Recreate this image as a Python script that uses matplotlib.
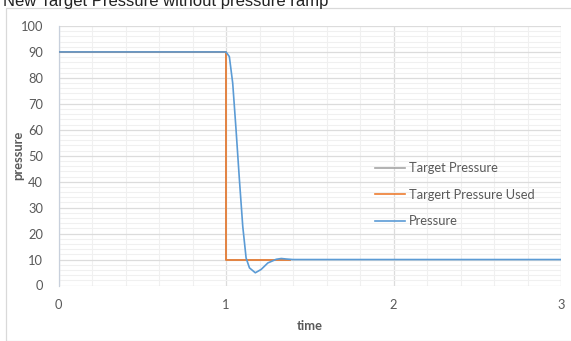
import matplotlib
matplotlib.use("Agg")
import matplotlib.pyplot as plt
from matplotlib.patches import Rectangle
import numpy as np

# Data
pressure_t = [0, 1.0, 1.02, 1.04, 1.06, 1.08, 1.10, 1.12, 1.14, 1.175, 1.21, 1.25, 1.30, 1.33, 1.36, 1.40, 3.0]
pressure_v = [90, 90, 88.2, 78, 60, 40.8, 22.8, 10.6, 6.8, 4.9, 6.2, 8.7, 10.1, 10.4, 10.2, 10, 10]
used_t = [0, 1.0, 1.0, 1.38]
used_v = [90, 90, 10, 10]
target_t = [0, 1.0, 1.0, 1.38]
target_v = [90, 90, 10, 10]
x_ticks = [0, 1, 2, 3]
y_ticks = [0, 10, 20, 30, 40, 50, 60, 70, 80, 90, 100]
title = "New Target Pressure without pressure ramp"

plt.rcParams['font.family'] = ['Lato', 'DejaVu Sans']
W, H = 571, 341
fig = plt.figure(figsize=(W / 100, H / 100), dpi=100)
fig.patch.set_facecolor('white')

# chart border
fig.patches.append(Rectangle((6 / W, 0.5 / H), 1.0, 1 - 8.5 / H, transform=fig.transFigure,
                             fill=False, edgecolor='#d9d9d9', linewidth=0.9))

fig.text(3 / W, 1 - 6 / H, title, fontsize=12.0, color='#222222', va='baseline', ha='left',
         family=['Liberation Sans', 'DejaVu Sans'])

left, right = 58.5 / W, 561 / W
bottom, top = 1 - 285.5 / H, 1 - 26 / H
ax = fig.add_axes([left, bottom, right - left, top - bottom])

ax.set_xlim(0, 3)
ax.set_ylim(0, 100)
ax.set_xticks(x_ticks)
ax.set_yticks(y_ticks)
ax.set_xticks(np.arange(0, 3.001, 0.2), minor=True)
ax.set_yticks(np.arange(0, 100.001, 2), minor=True)
ax.grid(which='minor', color='#f0f0f0', linewidth=0.8)
ax.grid(which='major', color='#dcdcdc', linewidth=0.9)
ax.set_axisbelow(True)
for s in ['top', 'right', 'bottom']:
    ax.spines[s].set_visible(False)
ax.spines['left'].set_color('#c8d0dc')
ax.spines['left'].set_linewidth(0.9)
ax.tick_params(which='both', length=0, colors='#595959', labelsize=9.3)
ax.tick_params(axis='x', pad=10)
ax.tick_params(axis='y', pad=11)

ax.plot(target_t, target_v, color='#a5a5a5', linewidth=1.2, label='Target Pressure', zorder=2)
ax.plot(used_t, used_v, color='#ed7d31', linewidth=1.2, label='Targert Pressure Used', zorder=3)
ax.plot(pressure_t, pressure_v, color='#5b9bd5', linewidth=1.2, label='Pressure', zorder=4)

ax.set_xlabel('time', fontsize=9.3, fontweight='bold', color='#595959')
ax.set_ylabel('pressure', fontsize=9.3, fontweight='bold', color='#595959')
ax.yaxis.set_label_coords((18 - 58.5) / 502.5, 0.5)
ax.xaxis.set_label_coords(0.5, -(326 - 285.5) / 259.5)
ax.xaxis.label.set_va('center')
ax.yaxis.label.set_va('center')

leg = ax.legend(loc='upper left', bbox_to_anchor=(0.63, 0.475),
                frameon=False, fontsize=9.3, handlelength=2.3, labelspacing=1.12,
                handletextpad=0.3, borderaxespad=0, borderpad=0)
for t in leg.get_texts():
    t.set_color('#595959')

fig.savefig('out.png', dpi=100, facecolor='white')
